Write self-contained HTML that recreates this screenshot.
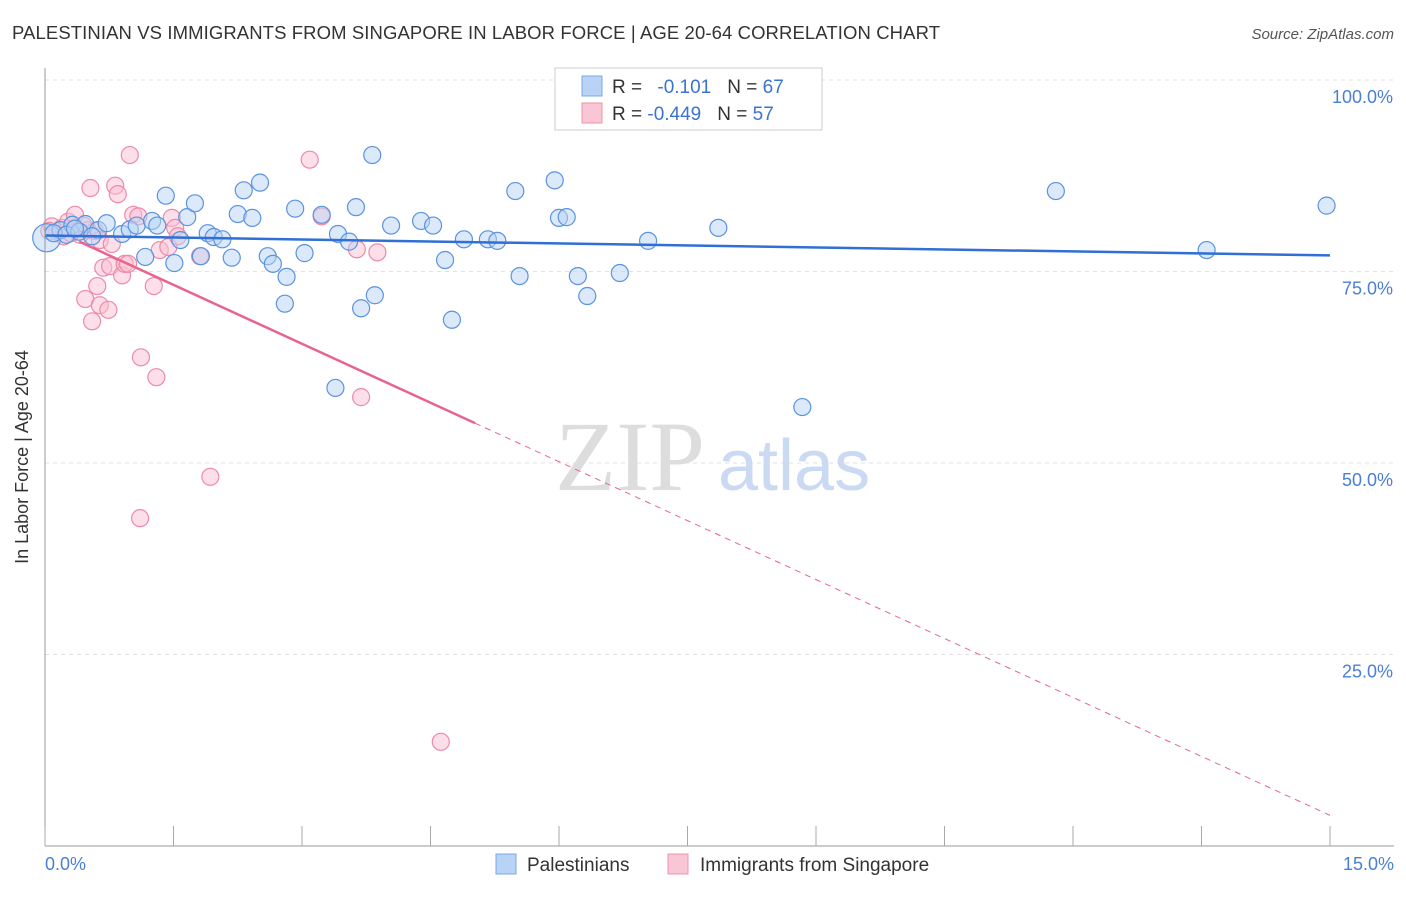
<!DOCTYPE html>
<html><head><meta charset="utf-8"><style>
body{margin:0;background:#fff;font-family:"Liberation Sans",sans-serif}
</style></head><body>
<svg width="1406" height="892" xmlns="http://www.w3.org/2000/svg" font-family="Liberation Sans, sans-serif">
<text x="12" y="39" font-size="18.5" fill="#333" textLength="928">PALESTINIAN VS IMMIGRANTS FROM SINGAPORE IN LABOR FORCE | AGE 20-64 CORRELATION CHART</text>
<text x="1394" y="39" font-size="15" fill="#555" font-style="italic" text-anchor="end">Source: ZipAtlas.com</text>
<g id="grid"></g>
<text x="555" y="490" font-size="100" fill="#ddd" font-family="Liberation Serif, serif">ZIP</text>
<text x="718" y="490" font-size="72" fill="#c9daf2">atlas</text>
<g id="pts"></g>
<g id="lines"></g>
<line x1="45" y1="68" x2="45" y2="846" stroke="#999"/>
<line x1="45" y1="846" x2="1394" y2="846" stroke="#999"/>
<g id="ticks"></g>
<text x="28" y="457" font-size="18" fill="#333" text-anchor="middle" transform="rotate(-90 28 457)">In Labor Force | Age 20-64</text>
<text x="45" y="870" font-size="18" fill="#4a7fd4">0.0%</text>
<text x="1394" y="870" font-size="18" fill="#4a7fd4" text-anchor="end">15.0%</text>
<g>
<rect x="555" y="68" width="267" height="62" fill="#fff" stroke="#ccc"/>
<rect x="582" y="76" width="20" height="20" fill="#b8d3f5" stroke="#7aa7e6"/>
<rect x="582" y="103" width="20" height="20" fill="#f9c6d5" stroke="#ee93ad"/>
<text x="612" y="93" font-size="19" fill="#333">R = <tspan fill="#3a73d1" dx="10">-0.101</tspan><tspan dx="16" fill="#333">N = </tspan><tspan fill="#3a73d1">67</tspan></text>
<text x="612" y="120" font-size="19" fill="#333">R = <tspan fill="#3a73d1">-0.449</tspan><tspan dx="16" fill="#333">N = </tspan><tspan fill="#3a73d1">57</tspan></text>
</g>
<g>
<rect x="496" y="854" width="20" height="20" fill="#b8d3f5" stroke="#7aa7e6"/>
<text x="527" y="871" font-size="19" fill="#333">Palestinians</text>
<rect x="668" y="854" width="20" height="20" fill="#f9c6d5" stroke="#ee93ad"/>
<text x="700" y="871" font-size="19" fill="#333">Immigrants from Singapore</text>
</g>
</svg>
<script>
const yTicks=[100,75,50,25];
const yTickLabels=["100.0%","75.0%","50.0%","25.0%"];
const xTicks=[0,1.5,3,4.5,6,7.5,9,10.5,12,13.5,15];
const blueX=[0.02,0.18,0.32,0.47,0.62,0.72,0.90,0.99,1.07,1.17,1.25,1.31,1.41,1.51,1.58,1.66,1.75,1.82,1.90,1.97,2.07,2.18,2.25,2.32,2.42,2.51,2.60,2.66,2.82,2.80,2.92,3.03,3.23,3.39,3.42,3.55,3.63,3.69,3.82,3.85,4.04,4.39,4.53,4.67,4.75,4.89,5.17,5.28,5.49,5.54,5.95,6.00,6.09,6.22,6.33,6.71,7.04,7.86,8.84,11.80,13.56,14.96,0.1,0.25,0.4,0.55,0.35];
const blueY=[79.4,80.4,81.1,81.2,80.4,81.3,79.9,80.5,81.0,76.9,81.6,81.0,84.9,76.1,79.1,82.1,83.9,77.0,80.0,79.5,79.2,76.8,82.5,85.6,82.0,86.6,77.0,76.0,74.3,70.8,83.2,77.4,82.4,59.8,79.9,78.9,83.4,70.2,90.2,71.9,81.0,81.6,81.0,76.5,68.7,79.2,79.2,79.0,85.5,74.4,86.9,82.0,82.1,74.4,71.8,74.8,79.0,80.7,57.3,85.5,77.8,83.6,80.0,79.8,80.2,79.6,80.6];
const pinkX=[0.08,0.14,0.20,0.27,0.35,0.41,0.50,0.58,0.64,0.53,0.55,0.47,0.61,0.64,0.68,0.74,0.76,0.78,0.82,0.85,0.90,0.93,0.97,0.99,1.03,1.09,1.12,1.11,1.27,1.30,1.34,1.44,1.48,1.52,1.55,1.81,1.93,3.09,3.23,3.64,3.69,3.88,4.62,0.05,0.22,0.3,0.45];
const pinkY=[80.9,80.2,80.7,81.5,82.4,79.8,80.4,80.3,79.1,85.9,68.5,71.4,73.1,70.6,75.5,70.0,75.7,78.6,86.2,85.1,74.5,76.0,76.0,90.2,82.4,82.2,63.8,42.8,73.1,61.2,77.8,78.2,82.0,80.7,79.6,77.0,48.2,89.6,82.2,77.9,58.6,77.5,13.6,80.3,79.6,80.0,81.0];
const blueTrend=[[0,79.7],[15,77.1]];
const pinkTrend=[[0.4,78.9],[5.02,55.2],[15,4.0]];
const NS="http://www.w3.org/2000/svg";
const sx=v=>45+v/15*1285, sy=v=>846-v*7.66;
function mk(t,a,p){const e=document.createElementNS(NS,t);for(const k in a)e.setAttribute(k,a[k]);document.getElementById(p).appendChild(e);return e;}
yTicks.forEach((t,i)=>{
 const l=mk('line',{x1:45,x2:1394,y1:sy(t),y2:sy(t),stroke:'#e2e2e2','stroke-dasharray':'4 4'},'grid');
 
 
 const tx=mk('text',{x:1393,y:sy(t)+23,'font-size':18,fill:'#4a7fd4','text-anchor':'end'},'grid');
 tx.textContent=yTickLabels[i];
 
 
});
xTicks.forEach(t=>{
 const l=mk('line',{x1:sx(t),x2:sx(t),y1:826,y2:846,stroke:'#aaa'},'ticks');
 
 
});
function dots(X,Y,f,s,name){X.forEach((x,i)=>{
 const c=mk('circle',{cx:sx(x),cy:sy(Y[i]),r:i==0&&name=='blue-point'?14:8.5,fill:f,'fill-opacity':0.5,stroke:s,'stroke-width':1.2},'pts');
 
 
});}
dots(pinkX,pinkY,'#f9c0d1','#ee8aa8','pink-point');
dots(blueX,blueY,'#b8d3f5','#5a93e0','blue-point');
const b=mk('line',{x1:sx(blueTrend[0][0]),y1:sy(blueTrend[0][1]),x2:sx(blueTrend[1][0]),y2:sy(blueTrend[1][1]),stroke:'#2f6fd6','stroke-width':2.5},'lines');


const p1=mk('line',{x1:sx(pinkTrend[0][0]),y1:sy(pinkTrend[0][1]),x2:sx(pinkTrend[1][0]),y2:sy(pinkTrend[1][1]),stroke:'#e8648f','stroke-width':2.5},'lines');


const p2=mk('line',{x1:sx(pinkTrend[1][0]),y1:sy(pinkTrend[1][1]),x2:sx(pinkTrend[2][0]),y2:sy(pinkTrend[2][1]),stroke:'#e8648f','stroke-width':1,'stroke-dasharray':'6 5'},'lines');


</script>
</body></html>
